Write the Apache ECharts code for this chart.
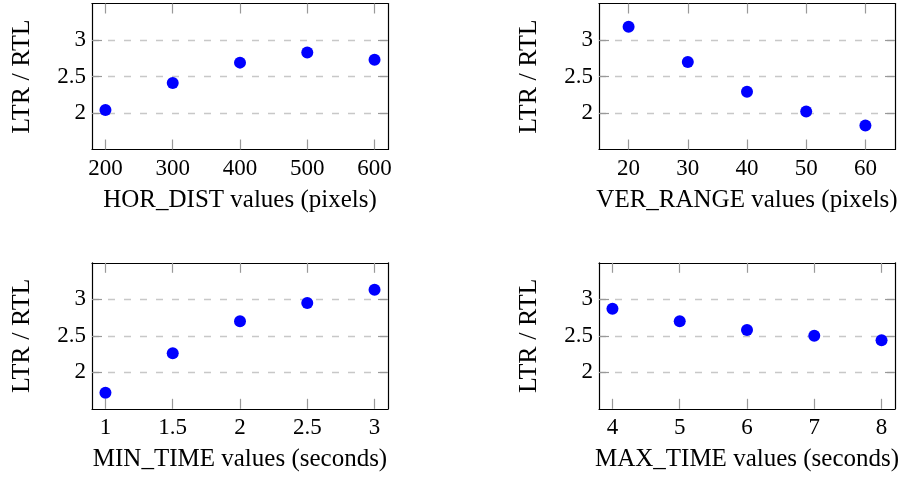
<!DOCTYPE html>
<html>
<head>
<meta charset="utf-8">
<script src="https://cdn.jsdelivr.net/npm/echarts@6/dist/echarts.min.js"></script>
<style>html,body{margin:0;padding:0;background:#fff;}#c{width:906px;height:479px;}</style>
</head>
<body>
<div id="c"></div>
<script>
// ---- data ----
const horDist = [200, 300, 400, 500, 600];
const horDistRatio = [2.04, 2.41, 2.69, 2.83, 2.73];
const verRange = [20, 30, 40, 50, 60];
const verRangeRatio = [3.18, 2.70, 2.29, 2.02, 1.83];
const minTime = [1, 1.5, 2, 2.5, 3];
const minTimeRatio = [1.72, 2.26, 2.70, 2.95, 3.13];
const maxTime = [4, 5, 6, 7, 8];
const maxTimeRatio = [2.87, 2.70, 2.58, 2.50, 2.44];
const yTicks = [2, 2.5, 3];
const yTitle = 'LTR / RTL';
const xTitles = ['HOR_DIST values (pixels)', 'VER_RANGE values (pixels)', 'MIN_TIME values (seconds)', 'MAX_TIME values (seconds)'];

const panels = [
  {x: horDist, y: horDistRatio, xmin: 180, xmax: 620, title: xTitles[0]},
  {x: verRange, y: verRangeRatio, xmin: 15, xmax: 65, title: xTitles[1]},
  {x: minTime, y: minTimeRatio, xmin: 0.9, xmax: 3.1, title: xTitles[2]},
  {x: maxTime, y: maxTimeRatio, xmin: 3.8, xmax: 8.2, title: xTitles[3]}
];
const layout = [
  {left: 92, top: 3.5},
  {left: 599, top: 3.5},
  {left: 92, top: 262.8},
  {left: 599, top: 262.8}
];
const FONT = 'Liberation Serif';
const tickStyle = {color: '#999', width: 1.2};
const boxLine = {show: true, onZero: false, lineStyle: {color: '#000', width: 1.2}};

const grid = [], xAxis = [], yAxis = [], series = [];
panels.forEach((p, i) => {
  grid.push({left: layout[i].left, top: layout[i].top, width: 296, height: 146, containLabel: false});
  xAxis.push({
    type: 'value', gridIndex: i, position: 'bottom', min: p.xmin, max: p.xmax, z: 3,
    axisLine: boxLine,
    axisTick: {show: true, inside: true, length: 10, lineStyle: tickStyle, customValues: p.x},
    axisLabel: {show: true, customValues: p.x, margin: 8, color: '#000', fontFamily: FONT, fontSize: 23},
    splitLine: {show: false},
    name: p.title, nameLocation: 'middle', nameGap: 38,
    nameTextStyle: {color: '#000', fontFamily: FONT, fontSize: 25}
  });
  xAxis.push({
    type: 'value', gridIndex: i, position: 'top', min: p.xmin, max: p.xmax, z: 3,
    axisLine: boxLine,
    axisTick: {show: true, inside: true, length: 10, lineStyle: tickStyle, customValues: p.x},
    axisLabel: {show: false}, splitLine: {show: false}
  });
  yAxis.push({
    type: 'value', gridIndex: i, position: 'left', min: 1.5, max: 3.5,
    axisLine: boxLine,
    axisTick: {show: true, inside: true, length: 10, lineStyle: tickStyle, customValues: yTicks},
    axisLabel: {show: true, customValues: yTicks, margin: 6, color: '#000', fontFamily: FONT, fontSize: 23},
    splitLine: {show: true, lineStyle: {color: '#c8c8c8', width: 1.3, type: [7, 9]}},
    name: yTitle, nameLocation: 'middle', nameGap: 57,
    nameTextStyle: {color: '#000', fontFamily: FONT, fontSize: 26}
  });
  yAxis.push({
    type: 'value', gridIndex: i, position: 'right', min: 1.5, max: 3.5,
    axisLine: boxLine,
    axisTick: {show: true, inside: true, length: 10, lineStyle: tickStyle, customValues: yTicks},
    axisLabel: {show: false}, splitLine: {show: false}
  });
  series.push({
    type: 'scatter', xAxisIndex: 2 * i, yAxisIndex: 2 * i,
    data: p.x.map((v, k) => [v, p.y[k]]),
    symbol: 'circle', symbolSize: 12, itemStyle: {color: '#0000ff', opacity: 1}, z: 5
  });
});

const chart = echarts.init(document.getElementById('c'), null, {renderer: 'canvas'});
chart.setOption({animation: false, backgroundColor: '#fff', grid, xAxis, yAxis, series});
</script>
</body>
</html>
